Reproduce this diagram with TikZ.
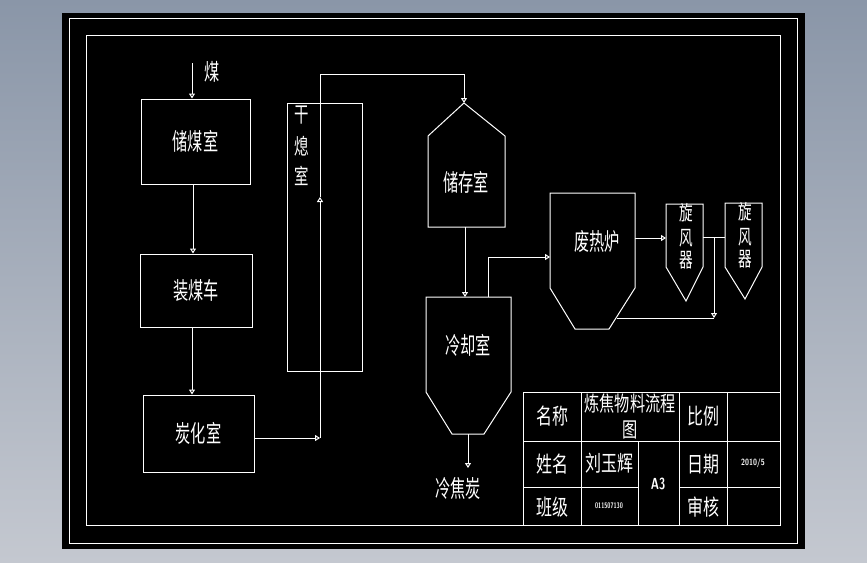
\documentclass[tikz,border=0pt]{standalone}
\usepackage{fontspec}
\usepackage{graphicx}
\newfontfamily\cjk{Noto Sans CJK SC}
\usetikzlibrary{arrows.meta}
\newcommand{\cn}[3][19]{\scalebox{0.8}[#2]{\fontsize{#1}{#1}\selectfont\cjk #3}}
\tikzset{
  wl/.style={draw=white, line width=1pt},
  flow/.style={draw=white, line width=1pt, -{Triangle[open,length=5pt,width=6pt]}},
  boxn/.style={draw=white, line width=1pt, inner sep=0pt},
  lbl/.style={text=white, inner sep=0pt},
}
\begin{document}
\begin{tikzpicture}[x=1pt,y=-1pt]
\useasboundingbox (0,0) rectangle (867,562);
\shade[top color={rgb,255:red,138;green,150;blue,168}, bottom color={rgb,255:red,196;green,200;blue,208}] (0,0) rectangle (867,562);
\fill[black] (62,13) rectangle (805,549);
\draw[wl] (69,18) rectangle (797,543);
\draw[wl] (86,35) rectangle (780,525);

% left column
\node[lbl] (meitxt) at (212,72) {\cn[19]{1.2}{煤}};
\coordinate (coalin) at (192,63);
\node[boxn, minimum width=109pt, minimum height=85pt] (chu) at (195.5,141.5) {};
\node[lbl] at (chu.center) {\cn[19]{1.25}{储煤室}};
\node[boxn, minimum width=112pt, minimum height=73pt] (zhuang) at (196,290.5) {};
\node[lbl] at (zhuang.center) {\cn[19]{1.25}{装煤车}};
\node[boxn, minimum width=111pt, minimum height=77pt] (tan) at (198.5,433.5) {};
\node[lbl] at (tan.center) {\cn[19]{1.25}{炭化室}};

\draw[flow] (coalin) -- (coalin |- chu.north);
\draw[flow] ([xshift=-2.5pt]chu.south) -- ([xshift=-2.5pt]chu.south |- zhuang.north);
\draw[flow] ([xshift=-4pt]zhuang.south) -- ([xshift=-4pt]zhuang.south |- tan.north);

% dry quenching
\node[boxn, minimum width=75pt, minimum height=268pt] (ganxi) at (324.5,237) {};
\node[lbl] (g1) at (302,115) {\cn[18]{1.2}{干}};
\node[lbl] (g2) at (302,146) {\cn[18]{1.2}{熄}};
\node[lbl] (g3) at (302,176) {\cn[18]{1.2}{室}};

\coordinate (r1) at (320,438);
\coordinate (rmid) at (320,197);
\coordinate (rtop) at (320,74);
\coordinate (stapex) at (464,103);
\draw[flow] (tan.east |- r1) -- (r1);
\draw[flow] (r1) -- (rmid);
\draw[flow] (rmid) -- (rtop) -- (rtop -| stapex) -- (stapex);

% storage
\draw[wl] (428,227) -- (428,136) -- (stapex) -- (505,136) -- (505,227) -- cycle;
\node[lbl] (sttxt) at (466,182) {\cn[19]{1.25}{储存室}};
\coordinate (stbot) at (465,227);
\coordinate (cotop) at (465,297);
\draw[flow] (stbot) -- (cotop);

% cooling
\draw[wl] (426,297) -- (511,297) -- (511,392) -- (484,434) -- (452,434) -- (426,392) -- cycle;
\node[lbl] (cotxt) at (468,345) {\cn[19]{1.25}{冷却室}};
\coordinate (cobot) at (468,434);
\coordinate (coout) at (468,468);
\draw[flow] (cobot) -- (coout);
\node[lbl] (lengjiao) at (458,488) {\cn[19]{1.25}{冷焦炭}};

% waste heat furnace
\coordinate (cogas) at (488,297);
\coordinate (fin) at (550,257);
\draw[flow] (cogas) -- (cogas |- fin) -- (fin);
\draw[wl] (550,193) -- (635,193) -- (635,288) -- (609,329) -- (575,329) -- (550,288) -- cycle;
\node[lbl] (ftxt) at (597,241) {\cn[19]{1.25}{废热炉}};
\coordinate (fout) at (635,238);
\coordinate (c1in) at (666,238);
\draw[flow] (fout) -- (c1in);

% cyclones
\draw[wl] (666,204) -- (703,204) -- (703,267) -- (686,301) -- (666,267) -- cycle;
\node[lbl] at (686,213) {\cn[17]{1.2}{旋}};
\node[lbl] at (686,238) {\cn[17]{1.2}{风}};
\node[lbl] at (686,260) {\cn[17]{1.2}{器}};
\draw[wl] (725,203) -- (762,203) -- (762,267) -- (745,299) -- (725,267) -- cycle;
\node[lbl] at (745,212) {\cn[17]{1.2}{旋}};
\node[lbl] at (745,237) {\cn[17]{1.2}{风}};
\node[lbl] at (745,259) {\cn[17]{1.2}{器}};
\coordinate (c1out) at (703,237);
\coordinate (c2in) at (725,237);
\coordinate (tee) at (714,237);
\coordinate (ret) at (714,318);
\coordinate (fret) at (617,318);
\draw[wl] (c1out) -- (c2in);
\draw[flow] (tee) -- (ret);
\draw[wl] (ret) -- (fret);

% title block
\draw[wl] (523,392) rectangle (780,525);
\draw[wl] (523,441) -- (780,441);
\draw[wl] (523,487) -- (638,487);
\draw[wl] (679,487) -- (780,487);
\draw[wl] (581,392) -- (581,525);
\draw[wl] (638,441) -- (638,525);
\draw[wl] (679,392) -- (679,525);
\draw[wl] (727,392) -- (727,525);
\node[lbl] at (552,416) {\cn[20]{1.1}{名称}};
\node[lbl] at (630,404) {\cn[19]{1.1}{炼焦物料流程}};
\node[lbl] at (630,430) {\cn[19]{1.1}{图}};
\node[lbl] at (703,416) {\cn[20]{1.1}{比例}};
\node[lbl] at (552,464) {\cn[20]{1.1}{姓名}};
\node[lbl] at (609,463) {\cn[20]{1.1}{刘玉辉}};
\node[lbl] at (658,484) {\scalebox{0.7}[1]{\fontsize{16}{16}\selectfont\sffamily\bfseries A3}};
\node[lbl] at (703,464) {\cn[20]{1.1}{日期}};
\node[lbl] at (753,463) {\scalebox{0.8}[1]{\fontsize{9}{9}\selectfont\sffamily\bfseries 2010/5}};
\node[lbl] at (552,507) {\cn[20]{1.1}{班级}};
\node[lbl] at (609,506) {\scalebox{0.7}[1]{\fontsize{8}{8}\selectfont\sffamily\bfseries 011507130}};
\node[lbl] at (703,507) {\cn[20]{1.1}{审核}};
\end{tikzpicture}
\end{document}
